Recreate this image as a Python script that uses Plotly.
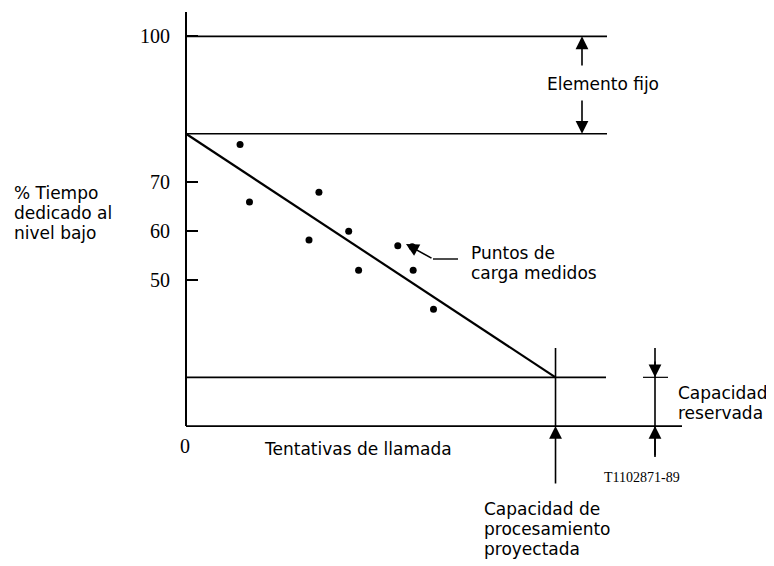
import plotly.graph_objects as go

# ---- data (arbitrary x units = call attempts) ----
pts_x = [10.9, 12.8, 24.8, 26.8, 32.8, 34.8, 42.7, 45.6, 45.8, 49.9]
pts_y = [77.8, 66.0, 58.2, 68.0, 60.0, 52.0, 57.0, 56.8, 52.0, 44.0]
trend_x = [0, 74.5]
trend_y = [80, 30]
ytick_vals = [50, 60, 70, 100]
ytick_text = ["50", "60", "70", "100"]
level_total = 100
level_fixed = 80
level_reserved = 30
level_floor = 20
projected_x = 74.5

# ---- page geometry (page px; the browser body adds an 8px margin) ----
BODY = 8
PAGE_W, PAGE_H = 774, 566
PL, PT = 176, 12          # plot area left/top in page px
PX_X = 4.96               # px per x unit
PX_Y = 4.871              # px per y unit
x0_px = 186               # page px of x = 0

def X(px):
    return (px - x0_px) / PX_X
def Y(py):
    return 105 - (py - PT) / PX_Y
def XP(px):
    return (px - PL) / (PAGE_W - PL)
def YP(py):
    return 1 - (py - PT) / (PAGE_H - PT)

xr = [X(PL), X(PAGE_W)]
yr = [Y(PAGE_H), 105]

SANS = "DejaVu Sans"
SERIF = "Liberation Serif"

fig = go.Figure()
fig.add_trace(go.Scatter(x=trend_x, y=trend_y, mode="lines",
                         line=dict(color="black", width=2.2), hoverinfo="skip"))
fig.add_trace(go.Scatter(x=pts_x, y=pts_y, mode="markers",
                         marker=dict(color="black", size=7), hoverinfo="skip"))

shapes = []
def seg(x0, y0, x1, y1, w=1.6):
    shapes.append(dict(type="line", xref="x", yref="y", x0=x0, y0=y0, x1=x1, y1=y1,
                       line=dict(color="black", width=w)))

# axes
seg(0, level_floor, 0, 105, 2)
seg(0, level_floor, X(682), level_floor, 1.8)
# levels
seg(0, level_total, X(607), level_total)
seg(0, level_fixed, X(607), level_fixed)
seg(0, level_reserved, X(606), level_reserved)
seg(X(643), level_reserved, X(668), level_reserved, 1.2)
# vertical markers
seg(projected_x, Y(348), projected_x, level_floor, 1.6)
seg(X(655), Y(348), X(655), Y(457), 1.6)
# leader for measured points
seg(X(433), Y(259), X(458), Y(259), 1.4)

ann = []
def arrow(x, y, ax, ay):
    ann.append(dict(x=x, y=y, ax=ax, ay=ay, xref="x", yref="y", axref="x", ayref="y",
                    text="", showarrow=True, arrowhead=2, arrowsize=1.6,
                    arrowwidth=1.6, arrowcolor="black", standoff=0, startstandoff=0))

arrow(X(582), level_total, X(582), Y(67))
arrow(X(582), level_fixed, X(582), Y(99))
arrow(projected_x, level_floor, projected_x, Y(485))
arrow(X(655), level_reserved, X(655), Y(360))
arrow(X(655), level_floor, X(655), Y(457))
arrow(X(406), Y(244), X(433), Y(259))

def text(s, px, py, size=17, font=SANS, xanchor="left"):
    ann.append(dict(x=XP(px), y=YP(py), xref="paper", yref="paper", text=s,
                    showarrow=False, xanchor=xanchor, yanchor="middle", align="left",
                    font=dict(family=font, size=size, color="black")))

text("Elemento fijo", 545, 84)
text("Puntos de", 469, 253)
text("carga medidos", 469, 273)
text("Capacidad", 676, 393)
text("reservada", 676, 413)
text("Capacidad de", 482, 509)
text("procesamiento", 482, 529)
text("proyectada", 482, 549)
text("Tentativas de llamada", 262, 449)
text("% Tiempo", 12, 193)
text("dedicado al", 12, 213)
text("nivel bajo", 12, 233)
text("0", 185, 446, size=20, font=SERIF, xanchor="center")
text("T1102871-89", 642, 477, size=14, font=SERIF, xanchor="center")

fig.update_layout(
    width=PAGE_W - BODY, height=PAGE_H - BODY,
    margin=dict(l=PL - BODY, r=0, t=PT - BODY, b=0, pad=0),
    paper_bgcolor="white", plot_bgcolor="white",
    showlegend=False,
    shapes=shapes, annotations=ann,
    xaxis=dict(range=xr, visible=False, fixedrange=True),
    yaxis=dict(range=yr, anchor="free", position=(x0_px - PL) / (PAGE_W - PL),
               showline=False, showgrid=False, zeroline=False,
               tickmode="array", tickvals=ytick_vals, ticktext=ytick_text,
               ticks="inside", ticklen=11, tickwidth=1.6, tickcolor="black",
               ticklabelstandoff=16,
               tickfont=dict(family=SERIF, size=20, color="black"),
               fixedrange=True),
)

fig.write_html("out.html")
